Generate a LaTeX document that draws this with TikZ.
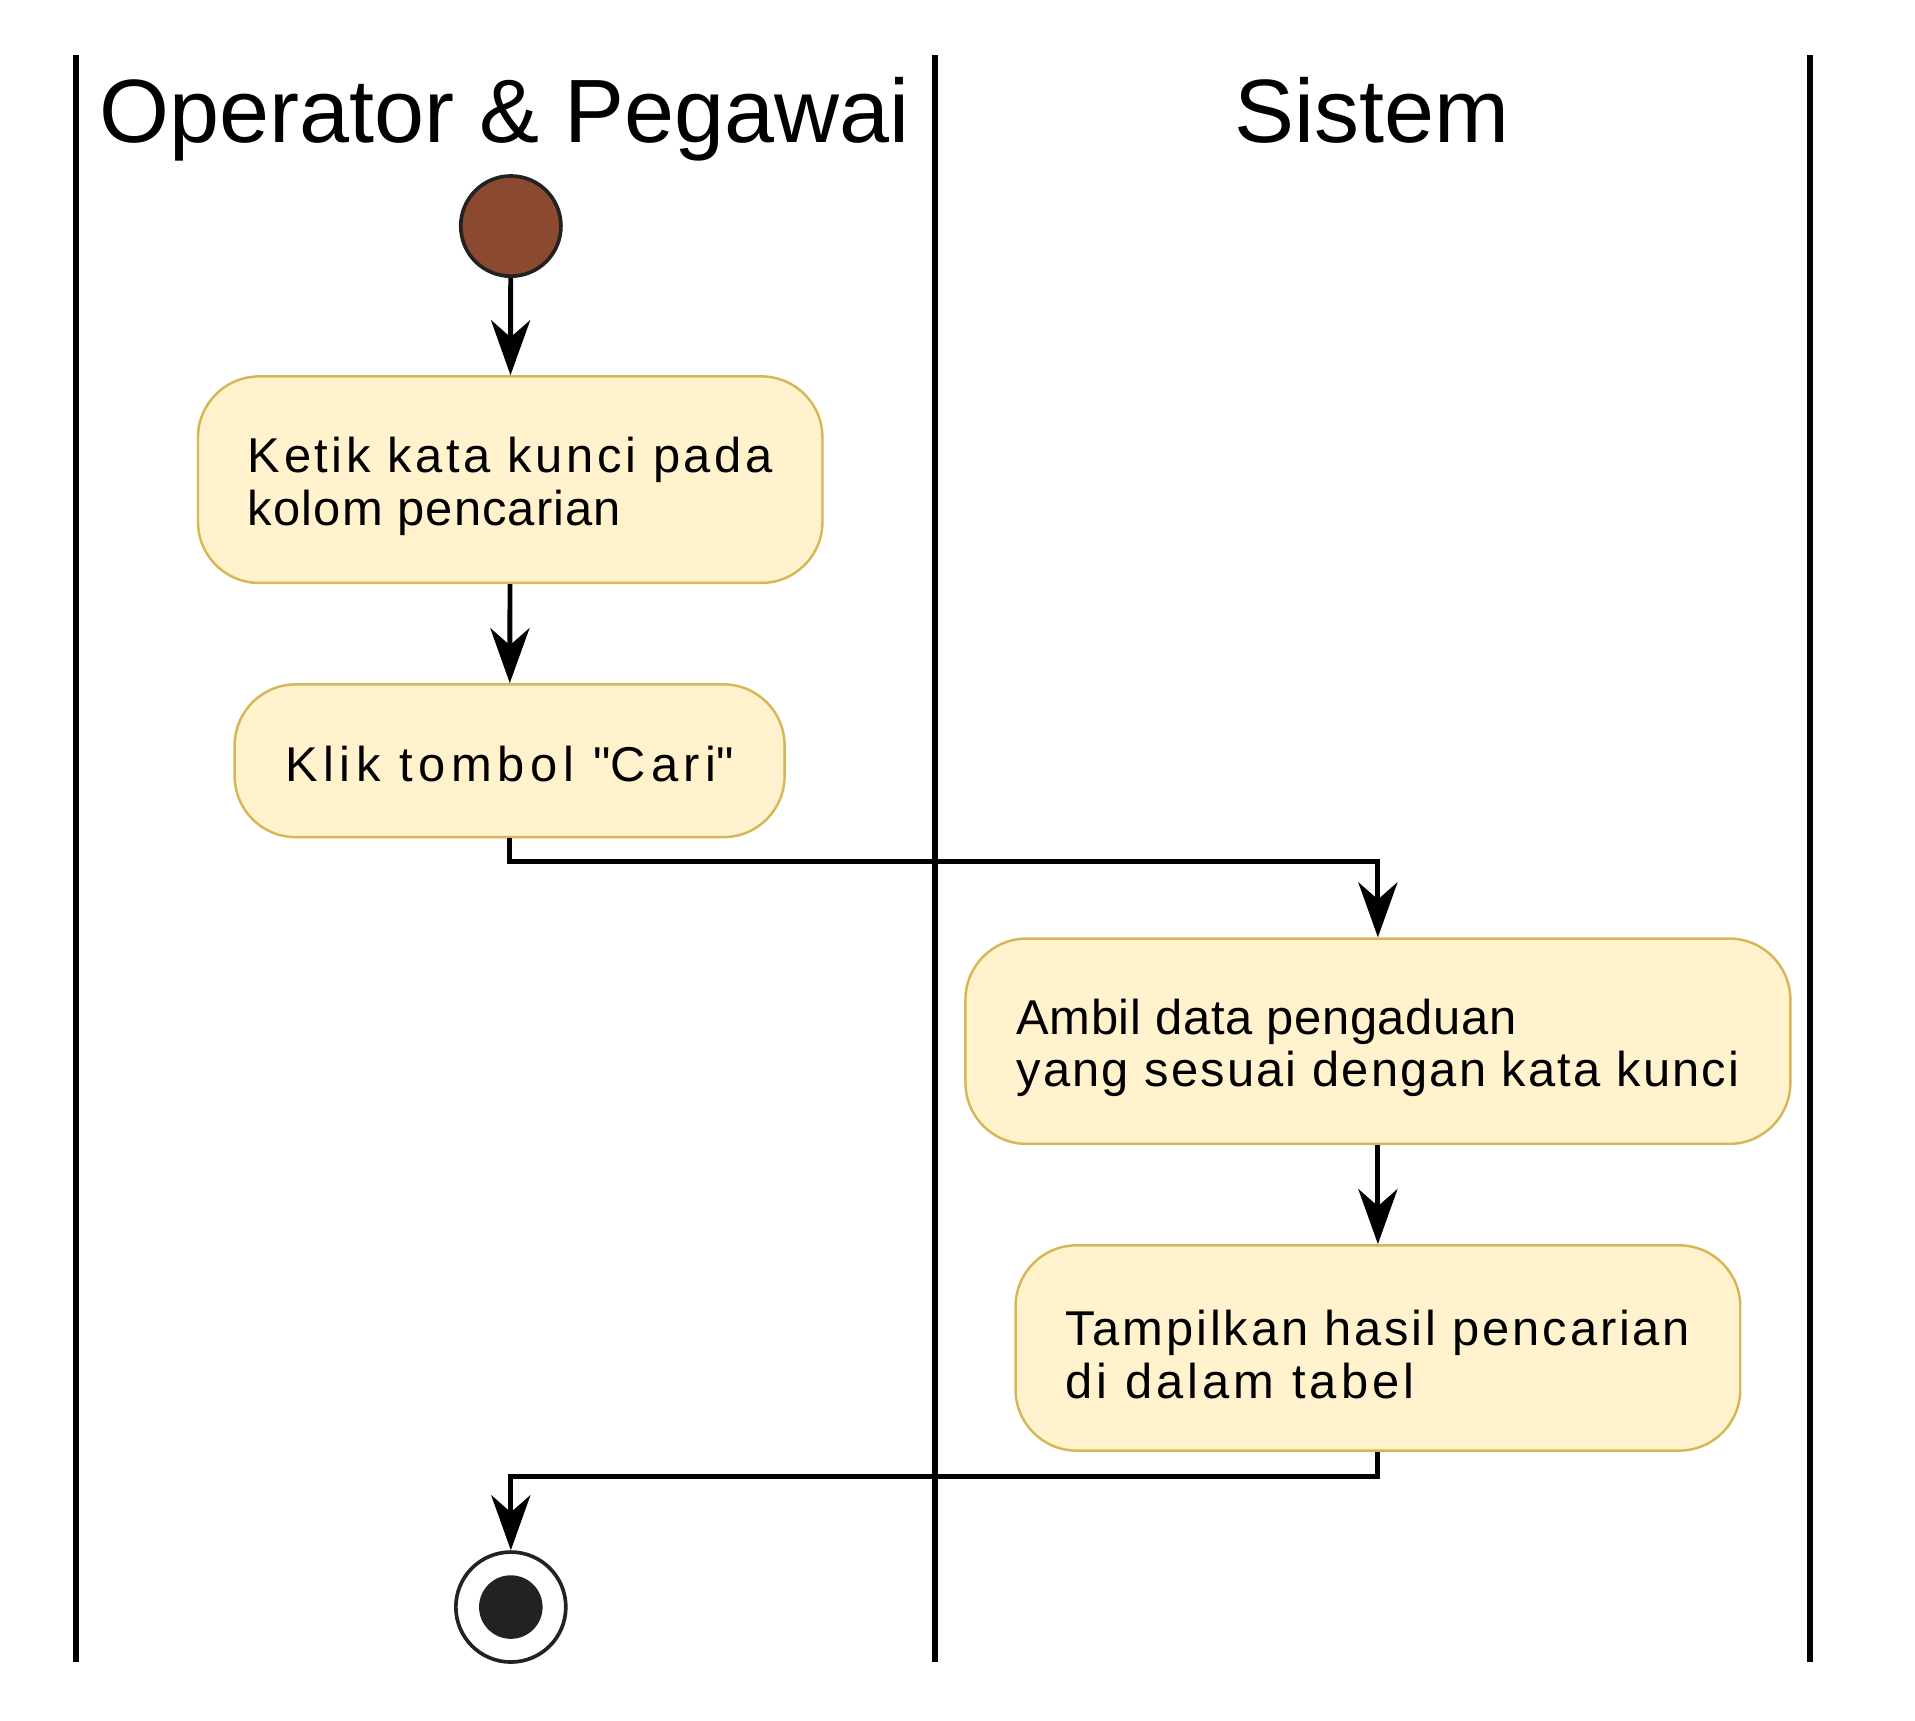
\documentclass[tikz,border=0pt]{standalone}
\usepackage{fontspec}
\setmainfont{Liberation Sans}
\usetikzlibrary{arrows.meta}
\definecolor{actfill}{HTML}{FFF2CC}
\definecolor{actline}{HTML}{D6B656}
\definecolor{startbrown}{HTML}{8B4A2F}
\definecolor{dotblack}{HTML}{222222}
\newcommand{\firstline}{\rule{0pt}{20pt}}
\newcommand{\tracked}[2]{{\addfontfeature{LetterSpace=#1}#2}}
\tikzset{
	action/.style={draw=actline,fill=actfill,line width=1pt,rounded corners=25pt,align=left,inner sep=0pt,
		font=\fontsize{20}{21.5}\selectfont},
	flow/.style={line width=2pt,-{Stealth[length=22.5pt,width=16pt,inset=7pt]}},
	lane/.style={line width=2.5pt},
	lanetitle/.style={anchor=base,font=\fontsize{36.8}{44}\selectfont},
}
\begin{document}
\begin{tikzpicture}[x=0.5pt,y=-0.5pt]
		\useasboundingbox (0,0) rectangle (1567,1407.5);
		% swimlanes
		\draw[lane] (62,45) -- (62,1360);
		\draw[lane] (765,45) -- (765,1360);
		\draw[lane] (1481,45) -- (1481,1360);
		\node[lanetitle] (opTitle) at (413,117) {Operator \& Pegawai};
		\node[lanetitle] (sysTitle) at (1123,117) {Sistem};
		% activities
		\node[circle,draw=dotblack,fill=startbrown,line width=1.5pt,minimum size=41pt,inner sep=0pt] (start) at (418,185) {};
		\node[action,minimum width=255.5pt,minimum height=84.5pt] (ketik) at (417.5,392.5)
			{\firstline\tracked{7.2}{Ketik kata kunci pada}\\\tracked{2.3}{kolom pencarian}};
		\node[action,minimum width=225pt,minimum height=62.5pt] (klik) at (417,622.5)
			{\rule{0pt}{17pt}\tracked{11.3}{Klik tombol \textquotedbl Cari\textquotedbl}};
		\node[action,minimum width=337.5pt,minimum height=84pt] (ambil) at (1127.5,852)
			{\firstline\tracked{1.3}{Ambil data pengaduan}\\\tracked{4.4}{yang sesuai dengan kata kunci}};
		\node[action,minimum width=296.5pt,minimum height=84pt] (tampil) at (1127.5,1103)
			{\firstline\tracked{5.8}{Tampilkan hasil pencarian}\\\tracked{8.3}{di dalam tabel}};
		\node[circle,draw=dotblack,line width=1.5pt,minimum size=45pt,inner sep=0pt] (stop) at (418,1315) {};
		\fill[dotblack] (stop.center) circle (13pt);
		% flows
		\coordinate (bendA) at (417,705);
		\coordinate (bendB) at (1127.5,1208);
		\draw[flow] (start) -- (ketik);
		\draw[flow] (ketik) -- (klik);
		\draw[flow] (klik.south) -- (bendA) -| (ambil.north);
		\draw[flow] (ambil) -- (tampil);
		\draw[flow] (tampil.south) -- (bendB) -| (stop.north);
\end{tikzpicture}
\end{document}
